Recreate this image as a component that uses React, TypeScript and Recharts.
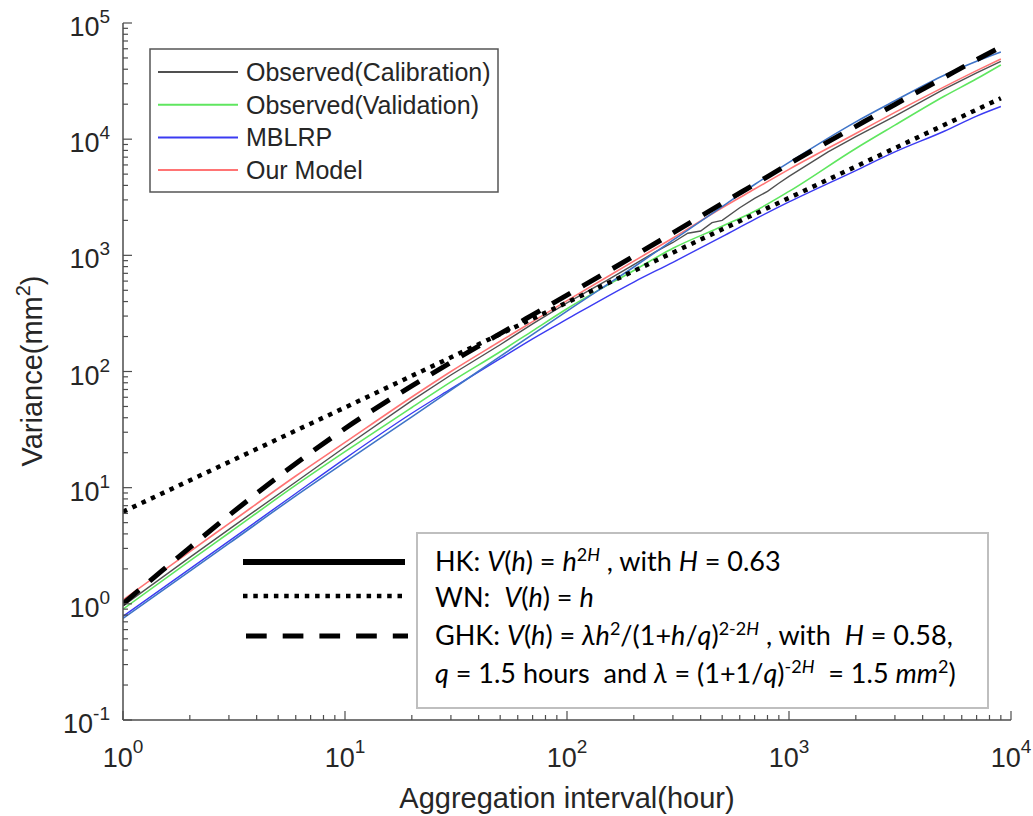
import React from 'react';
import { LineChart, Line, XAxis, YAxis } from 'recharts';

// aggregation intervals (hours) shared by the model / validation curves
const MODEL_HOURS = [1, 2, 3, 6, 10, 20, 30, 50, 70, 100, 200, 300, 500, 700, 1000, 2000, 3000, 5000, 7000, 9000];
const OUR_MODEL = [1.08, 2.82, 4.9, 12.6, 24.5, 60.3, 100, 182, 269, 407, 891, 1410, 2570, 3720, 5500, 11200, 17000, 28200, 38900, 49000];
const OBS_VALIDATION = [0.9, 2.34, 4.07, 10.5, 20.4, 49.0, 81.3, 148, 224, 347, 741, 1150, 1780, 2400, 3550, 8320, 13200, 23400, 33100, 43600];
const MBLRP = [0.78, 2.0, 3.47, 8.91, 17.8, 43.7, 70.8, 129, 191, 282, 589, 871, 1450, 2040, 2880, 5370, 7760, 11700, 15800, 19100];
// thin steel-blue curve with no legend entry
const STEEL_CURVE = [0.75, 1.91, 3.31, 8.51, 16.6, 40.7, 69.2, 135, 209, 331, 794, 1350, 2630, 4070, 6310, 14100, 21400, 35500, 46800, 56200];

// observed calibration series (wiggly above ~300 h)
const CAL_HOURS = [1, 2, 3, 6, 10, 20, 30, 50, 70, 100, 150, 200, 250, 300, 350, 400, 450, 500, 600, 700, 800, 900, 1000, 1500, 2000, 3000, 5000, 7000, 9000];
const OBS_CALIBRATION = [0.96, 2.51, 4.37, 11.2, 22.4, 56.2, 93.3, 170, 257, 389, 603, 832, 1070, 1290, 1550, 1620, 1910, 2000, 2570, 3090, 3550, 4170, 4790, 7760, 10500, 15800, 26900, 37200, 46800];

// GHK (dashed) and WN (dotted) reference lines
const GHK_HOURS = [1, 1.5, 2, 3, 5, 7, 10, 20, 30, 50, 70, 100, 200, 300, 500, 700, 1000, 2000, 3000, 5000, 7000, 9500];
const GHK = [1.0, 1.93, 3.05, 5.77, 12.4, 20.0, 32.3, 75.2, 120, 212, 307, 454, 986, 1560, 2800, 4090, 6120, 12900, 19900, 34000, 48300, 65600];
const WN_HOURS = [1, 10, 100, 1000, 9000];
const WN = [6.2, 49, 393, 3120, 22500];

const X_DECADES = [0, 1, 2, 3, 4];
const Y_DECADES = [-1, 0, 1, 2, 3, 4, 5];
const MINOR_STEPS = [2, 3, 4, 5, 6, 7, 8, 9];

const AXIS = '#4d4d4d';
const TXT = '#262626';
const FONT = '"Liberation Sans", Arial, Helvetica, sans-serif';

const CAL_COLOR = '#505050';
const VAL_COLOR = '#5fe65f';
const MBLRP_COLOR = '#3b3bf2';
const MODEL_COLOR = '#ff7474';
const STEEL_COLOR = '#3f74c8';

const LEGEND = [
    { name: 'Observed(Calibration)', color: CAL_COLOR },
    { name: 'Observed(Validation)', color: VAL_COLOR },
    { name: 'MBLRP', color: MBLRP_COLOR },
    { name: 'Our Model', color: MODEL_COLOR },
];

const withMinors = (decades: number[]) => {
    const out: number[] = [];
    decades.forEach((d, i) => {
        out.push(Math.pow(10, d));
        if (i < decades.length - 1) MINOR_STEPS.forEach(m => out.push(m * Math.pow(10, d)));
    });
    return out;
};
const X_TICKS = withMinors(X_DECADES);
const Y_TICKS = withMinors(Y_DECADES);

const toPoints = (xs: number[], ys: number[]) => xs.map((h, i) => ({ h, v: ys[i] }));

const expOf = (v: number) => Math.round(Math.log10(v));
const isMajor = (v: number) => Math.abs(Math.log10(v) - expOf(v)) < 1e-9;

const BottomTick = (p: any) => {
    const v = p.payload.value;
    const major = isMajor(v);
    return (
        <g>
            <line x1={p.x} x2={p.x} y1={p.y} y2={p.y - (major ? 9 : 5)} stroke={AXIS} strokeWidth={1.2} />
            {major && (
                <text x={p.x} y={p.y + 47} textAnchor="middle" fontSize={27} fill={TXT} fontFamily={FONT}>
                    10<tspan dy={-14} fontSize={19}>{expOf(v)}</tspan>
                </text>
            )}
        </g>
    );
};

const TopTick = (p: any) => {
    const major = isMajor(p.payload.value);
    return <line x1={p.x} x2={p.x} y1={p.y} y2={p.y + (major ? 9 : 5)} stroke={AXIS} strokeWidth={1.2} />;
};

const LeftTick = (p: any) => {
    const v = p.payload.value;
    const major = isMajor(v);
    return (
        <g>
            <line x1={p.x} x2={p.x + (major ? 9 : 5)} y1={p.y} y2={p.y} stroke={AXIS} strokeWidth={1.2} />
            {major && (
                <text x={p.x - 13} y={p.y + 13} textAnchor="end" fontSize={27} fill={TXT} fontFamily={FONT}>
                    10<tspan dy={-13} fontSize={19}>{expOf(v)}</tspan>
                </text>
            )}
        </g>
    );
};

const RightTick = (p: any) => {
    const major = isMajor(p.payload.value);
    return <line x1={p.x} x2={p.x - (major ? 9 : 5)} y1={p.y} y2={p.y} stroke={AXIS} strokeWidth={1.2} />;
};

const App: React.FC = () => {
    const axisLine = { stroke: AXIS, strokeWidth: 1.5 };
    const it = { fontStyle: 'italic' as const };
    const sup = { dy: -10, fontSize: 18 };

    return (
        <div style={{ position: 'absolute', left: 0, top: 0, width: 1033, height: 816, background: '#fff', fontFamily: FONT }}>
            <LineChart width={1033} height={816} margin={{ top: 23, right: 22, bottom: 0, left: 0 }}>
                <XAxis xAxisId="b" dataKey="h" type="number" scale="log" domain={[1, 10000]} allowDataOverflow
                    ticks={X_TICKS} interval={0} tick={(p: any) => <BottomTick {...p} />} tickLine={false}
                    tickSize={0} tickMargin={0} height={96} axisLine={axisLine} />
                <XAxis xAxisId="t" orientation="top" dataKey="h" type="number" scale="log" domain={[1, 10000]} allowDataOverflow
                    ticks={X_TICKS} interval={0} tick={(p: any) => <TopTick {...p} />} tickLine={false}
                    tickSize={0} tickMargin={0} height={0} axisLine={axisLine} />
                <YAxis yAxisId="l" type="number" scale="log" domain={[0.1, 100000]} allowDataOverflow
                    ticks={Y_TICKS} interval={0} tick={(p: any) => <LeftTick {...p} />} tickLine={false}
                    tickSize={0} tickMargin={0} width={123} axisLine={axisLine} />
                <YAxis yAxisId="r" orientation="right" type="number" scale="log" domain={[0.1, 100000]} allowDataOverflow
                    ticks={Y_TICKS} interval={0} tick={(p: any) => <RightTick {...p} />} tickLine={false}
                    tickSize={0} tickMargin={0} width={0} axisLine={axisLine} />

                <Line xAxisId="b" yAxisId="l" type="monotone" data={toPoints(MODEL_HOURS, OBS_VALIDATION)} dataKey="v" name="Observed(Validation)"
                    stroke={VAL_COLOR} strokeWidth={1.6} dot={false} isAnimationActive={false} />
                <Line xAxisId="b" yAxisId="l" type="linear" data={toPoints(CAL_HOURS, OBS_CALIBRATION)} dataKey="v" name="Observed(Calibration)"
                    stroke={CAL_COLOR} strokeWidth={1.4} dot={false} isAnimationActive={false} />
                <Line xAxisId="b" yAxisId="l" type="monotone" data={toPoints(MODEL_HOURS, OUR_MODEL)} dataKey="v" name="Our Model"
                    stroke={MODEL_COLOR} strokeWidth={1.6} dot={false} isAnimationActive={false} />
                <Line xAxisId="b" yAxisId="l" type="monotone" data={toPoints(MODEL_HOURS, MBLRP)} dataKey="v" name="MBLRP"
                    stroke={MBLRP_COLOR} strokeWidth={1.4} dot={false} isAnimationActive={false} />
                <Line xAxisId="b" yAxisId="l" type="monotone" data={toPoints(MODEL_HOURS, STEEL_CURVE)} dataKey="v" name="steel"
                    stroke={STEEL_COLOR} strokeWidth={1.6} dot={false} isAnimationActive={false} />
                <Line xAxisId="b" yAxisId="l" type="linear" data={toPoints(WN_HOURS, WN)} dataKey="v" name="WN"
                    stroke="#000" strokeWidth={4.5} strokeDasharray="4.5 5.8" dot={false} isAnimationActive={false} />
                <Line xAxisId="b" yAxisId="l" type="monotone" data={toPoints(GHK_HOURS, GHK)} dataKey="v" name="GHK"
                    stroke="#000" strokeWidth={5} strokeDasharray="21 14" dot={false} isAnimationActive={false} />
            </LineChart>

            <svg width={1033} height={816} style={{ position: 'absolute', left: 0, top: 0, pointerEvents: 'none' }}>
                {/* axis titles */}
                <text x={567} y={808} textAnchor="middle" fontSize={29} fill={TXT} fontFamily={FONT}>
                    Aggregation interval(hour)
                </text>
                <text transform="translate(42,371) rotate(-90)" textAnchor="middle" fontSize={29} fill={TXT} fontFamily={FONT}>
                    Variance(mm<tspan dy={-12} fontSize={20}>2</tspan><tspan dy={12}>)</tspan>
                </text>

                {/* series legend */}
                <rect x={150} y={49} width={348} height={143} fill="#fff" stroke="#555" strokeWidth={1.5} />
                {LEGEND.map((s, i) => (
                    <g key={s.name}>
                        <line x1={158} x2={238} y1={72 + i * 32.7} y2={72 + i * 32.7} stroke={s.color} strokeWidth={2} />
                        <text x={246} y={81 + i * 32.7} fontSize={25} fill={TXT} fontFamily={FONT}>{s.name}</text>
                    </g>
                ))}

                {/* formula annotation */}
                <line x1={243} x2={405} y1={562} y2={562} stroke="#000" strokeWidth={6} />
                <line x1={243} x2={405} y1={596} y2={596} stroke="#000" strokeWidth={4.5} strokeDasharray="4.5 5.8" />
                <line x1={246} x2={408} y1={636} y2={636} stroke="#000" strokeWidth={5} strokeDasharray="20.7 16" />
                <rect x={417} y={533} width={571} height={175} fill="#fff" stroke="#bfbfbf" strokeWidth={2} />
                <g fontFamily="Lato, 'Open Sans', sans-serif" fontSize={27} fill="#000">
                    <text x={435} y={571} xmlSpace="preserve">
                        HK: <tspan {...it}>V</tspan>(<tspan {...it}>h</tspan>) = <tspan {...it}>h</tspan>
                        <tspan {...sup}>2</tspan><tspan fontSize={18} {...it}>H</tspan>
                        <tspan dy={10}> , with </tspan><tspan {...it}>H</tspan> = 0.63
                    </text>
                    <text x={435} y={607} xmlSpace="preserve">
                        WN:  <tspan {...it}>V</tspan>(<tspan {...it}>h</tspan>) = <tspan {...it}>h</tspan>
                    </text>
                    <text x={435} y={645} xmlSpace="preserve">
                        GHK: <tspan {...it}>V</tspan>(<tspan {...it}>h</tspan>) = <tspan {...it}>λh</tspan>
                        <tspan {...sup}>2</tspan><tspan dy={10}>/(1+</tspan><tspan {...it}>h</tspan>/<tspan {...it}>q</tspan>)
                        <tspan {...sup}>2-2</tspan><tspan fontSize={18} {...it}>H</tspan>
                        <tspan dy={10}> , with  </tspan><tspan {...it}>H</tspan> = 0.58,
                    </text>
                    <text x={435} y={683} xmlSpace="preserve">
                        <tspan {...it}>q</tspan> = 1.5 hours  and <tspan {...it}>λ</tspan> = (1+1/<tspan {...it}>q</tspan>)
                        <tspan {...sup}>-2</tspan><tspan fontSize={18} {...it}>H</tspan>
                        <tspan dy={10}>  = 1.5 </tspan><tspan {...it}>mm</tspan><tspan {...sup}>2</tspan><tspan dy={10}>)</tspan>
                    </text>
                </g>
            </svg>
        </div>
    );
};

export default App;
